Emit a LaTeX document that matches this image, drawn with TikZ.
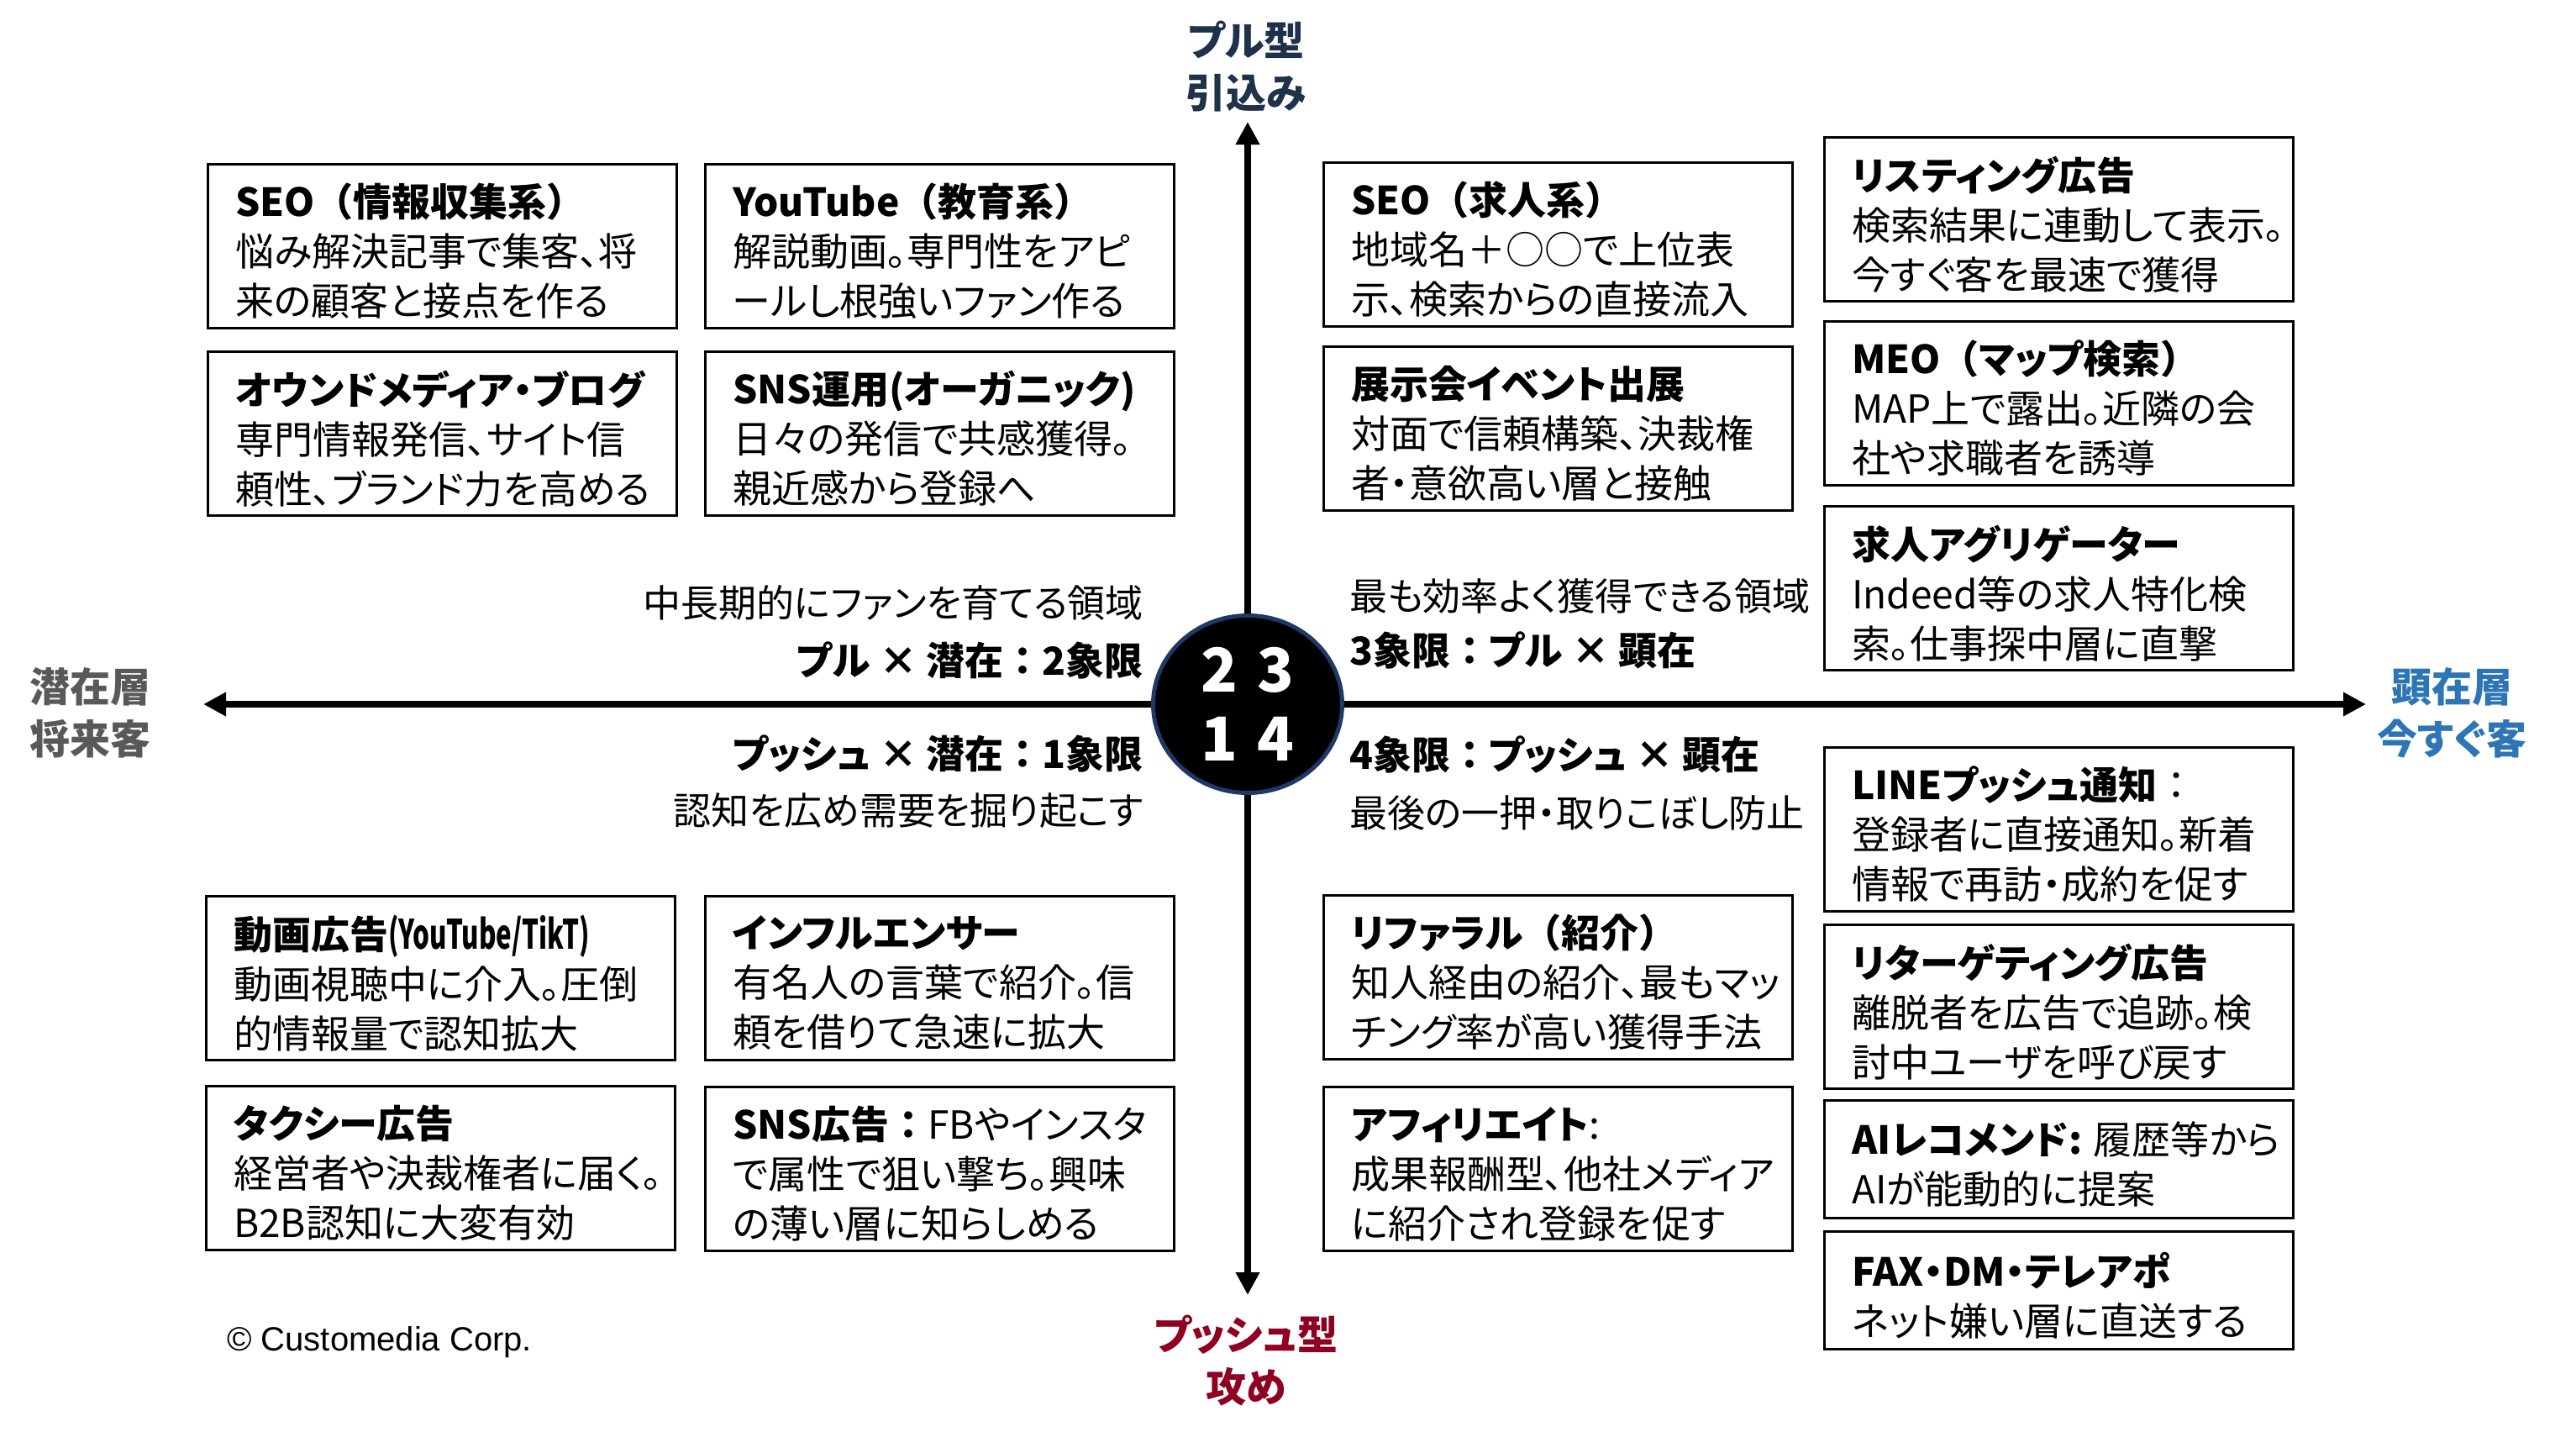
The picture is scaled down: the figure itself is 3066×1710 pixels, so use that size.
\documentclass[tikz,border=0pt]{standalone}
\usepackage{fontspec}
\usepackage{graphicx}
\setmainfont{Noto Sans CJK JP}[RawFeature=+palt]
\newfontfamily\wideface{Noto Sans CJK JP}
\newfontfamily\copyfont{Liberation Sans}
\usetikzlibrary{arrows.meta,positioning,shapes.geometric}
\definecolor{pullnavy}{HTML}{203249}
\definecolor{hubnavy}{HTML}{1F3864}
\definecolor{nowblue}{HTML}{2E75B6}
\definecolor{pushred}{HTML}{900020}
\definecolor{latentgray}{HTML}{595959}

\begin{document}
\begin{tikzpicture}[x=1pt,y=-1pt,
  card/.style={draw,line width=2.8pt,anchor=north west,minimum width=558pt,minimum height=195pt,inner sep=0pt},
  smallcard/.style={card,minimum height=140pt},
  cardtext/.style={align=left,inner sep=0pt,yshift=-6pt,font=\fontsize{46}{59}\selectfont},
  axis/.style={line width=7.5pt,-{Triangle[length=27pt,width=27pt]}},
  axislabel/.style={align=center,inner sep=0pt,font=\bfseries\fontsize{48}{62}\selectfont},
  note/.style={inner sep=0pt,font=\fontsize{45}{59}\selectfont},
  quadtitle/.style={inner sep=0pt,font=\bfseries\fontsize{46}{59}\selectfont}]
\useasboundingbox[fill=white] (0,0) rectangle (3066,1710);

% axis labels
\node[axislabel,text=pullnavy] (pull) at (1483,79) {プル型\\引込み};
\node[axislabel,text=pushred] (push) at (1483,1619) {プッシュ型\\攻め};
\node[axislabel,text=latentgray] (latent) at (107,848) {潜在層\\将来客};
\node[axislabel,text=nowblue] (now) at (2918,848) {顕在層\\今すぐ客};

% centre
\node[ellipse,fill=black,draw=hubnavy,line width=5pt,minimum width=225pt,minimum height=211pt,
  align=center,text=white,font=\bfseries\fontsize{72}{82}\selectfont] (hub) at (1485,838)
  {2\hspace{24pt}3\\1\hspace{24pt}4};
\coordinate (ntip) at (1485,145);
\coordinate (stip) at (1485,1541);
\coordinate (wtip) at (242,838);
\coordinate (etip) at (2816,838);
\draw[axis] (hub) -- (ntip);
\draw[axis] (hub) -- (stip);
\draw[axis] (hub) -- (wtip);
\draw[axis] (hub) -- (etip);

% quadrant captions
\node[note,anchor=east] (q2note) at (1361,717) {中長期的にファンを育てる領域};
\node[quadtitle,anchor=east] (q2title) at (1361,786) {プル × 潜在{\wideface ：}2象限};
\node[quadtitle,anchor=east] (q1title) at (1361,897) {プッシュ × 潜在{\wideface ：}1象限};
\node[note,anchor=east] (q1note) at (1361,965) {認知を広め需要を掘り起こす};
\node[note,anchor=west] (q3note) at (1606,709) {最も効率よく獲得できる領域};
\node[quadtitle,anchor=west] (q3title) at (1606,774) {3象限{\wideface ：}プル × 顕在};
\node[quadtitle,anchor=west] (q4title) at (1606,898) {4象限{\wideface ：}プッシュ × 顕在};
\node[note,anchor=west] (q4note) at (1606,967) {最後の一押・取りこぼし防止};

% quadrant 2
\node[card] (seoinfo) at (246,194) {};
\node[cardtext,right=34pt of seoinfo.west] (seoinfo-t) {\textbf{SEO{\wideface （}情報収集系{\wideface ）}}\\悩み解決記事で集客、将\\来の顧客と接点を作る};
\node[card] (youtube) at (838,194) {};
\node[cardtext,right=34pt of youtube.west] (youtube-t) {\textbf{YouTube{\wideface （}教育系{\wideface ）}}\\解説動画。専門性をアピ\\ールし根強いファン作る};
\node[card] (owned) at (246,417) {};
\node[cardtext,right=34pt of owned.west] (owned-t) {\textbf{オウンドメディア・ブログ}\\専門情報発信、サイト信\\頼性、ブランド力を高める};
\node[card] (snsorg) at (838,417) {};
\node[cardtext,right=34pt of snsorg.west] (snsorg-t) {\textbf{SNS運用(オーガニック)}\\日々の発信で共感獲得。\\親近感から登録へ};

% quadrant 1
\node[card] (videoad) at (244,1065) {};
\node[cardtext,right=34pt of videoad.west] (videoad-t) {\textbf{動画広告\scalebox{0.68}[1.05]{(YouTube/TikT)}}\\動画視聴中に介入。圧倒\\的情報量で認知拡大};
\node[card] (influencer) at (838,1065) {};
\node[cardtext,right=34pt of influencer.west] (influencer-t) {\textbf{インフルエンサー}\\有名人の言葉で紹介。信\\頼を借りて急速に拡大};
\node[card] (taxi) at (244,1291) {};
\node[cardtext,right=34pt of taxi.west] (taxi-t) {\textbf{タクシー広告}\\経営者や決裁権者に届く。\\B2B認知に大変有効};
\node[card] (snsad) at (838,1292) {};
\node[cardtext,right=34pt of snsad.west] (snsad-t) {\textbf{SNS広告{\wideface ：}}FBやインスタ\\で属性で狙い撃ち。興味\\の薄い層に知らしめる};

% quadrant 3
\node[card] (seojob) at (1574,192) {};
\node[cardtext,right=34pt of seojob.west] (seojob-t) {\textbf{SEO{\wideface （}求人系{\wideface ）}}\\地域名＋○○で上位表\\示、検索からの直接流入};
\node[card] (expo) at (1574,411) {};
\node[cardtext,right=34pt of expo.west] (expo-t) {\textbf{展示会イベント出展}\\対面で信頼構築、決裁権\\者・意欲高い層と接触};
\node[card] (listing) at (2170,162) {};
\node[cardtext,right=34pt of listing.west] (listing-t) {\textbf{リスティング広告}\\検索結果に連動して表示。\\今すぐ客を最速で獲得};
\node[card] (meo) at (2170,381) {};
\node[cardtext,right=34pt of meo.west] (meo-t) {\textbf{MEO{\wideface （}マップ検索{\wideface ）}}\\MAP上で露出。近隣の会\\社や求職者を誘導};
\node[card] (aggregator) at (2170,601) {};
\node[cardtext,right=34pt of aggregator.west] (aggregator-t) {\textbf{求人アグリゲーター}\\Indeed等の求人特化検\\索。仕事探中層に直撃};

% quadrant 4
\node[card] (referral) at (1574,1064) {};
\node[cardtext,right=34pt of referral.west] (referral-t) {\textbf{リファラル{\wideface （}紹介{\wideface ）}}\\知人経由の紹介、最もマッ\\チング率が高い獲得手法};
\node[card] (affiliate) at (1574,1292) {};
\node[cardtext,right=34pt of affiliate.west] (affiliate-t) {\textbf{アフィリエイト}:\\成果報酬型、他社メディア\\に紹介され登録を促す};
\node[card] (linepush) at (2170,888) {};
\node[cardtext,right=34pt of linepush.west] (linepush-t) {\textbf{LINEプッシュ通知}{\wideface ：}\\登録者に直接通知。新着\\情報で再訪・成約を促す};
\node[card] (retarget) at (2170,1099) {};
\node[cardtext,right=34pt of retarget.west] (retarget-t) {\textbf{リターゲティング広告}\\離脱者を広告で追跡。検\\討中ユーザを呼び戻す};
\node[smallcard] (airec) at (2170,1308) {};
\node[cardtext,right=34pt of airec.west] (airec-t) {\textbf{AIレコメンド:} 履歴等から\\AIが能動的に提案};
\node[smallcard] (faxdm) at (2170,1464) {};
\node[cardtext,right=34pt of faxdm.west] (faxdm-t) {\textbf{FAX・DM・テレアポ}\\ネット嫌い層に直送する};

\node[anchor=west,inner sep=0pt,font=\copyfont\fontsize{40}{48}\selectfont] (copy) at (270,1597) {© Customedia Corp.};
\end{tikzpicture}
\end{document}
